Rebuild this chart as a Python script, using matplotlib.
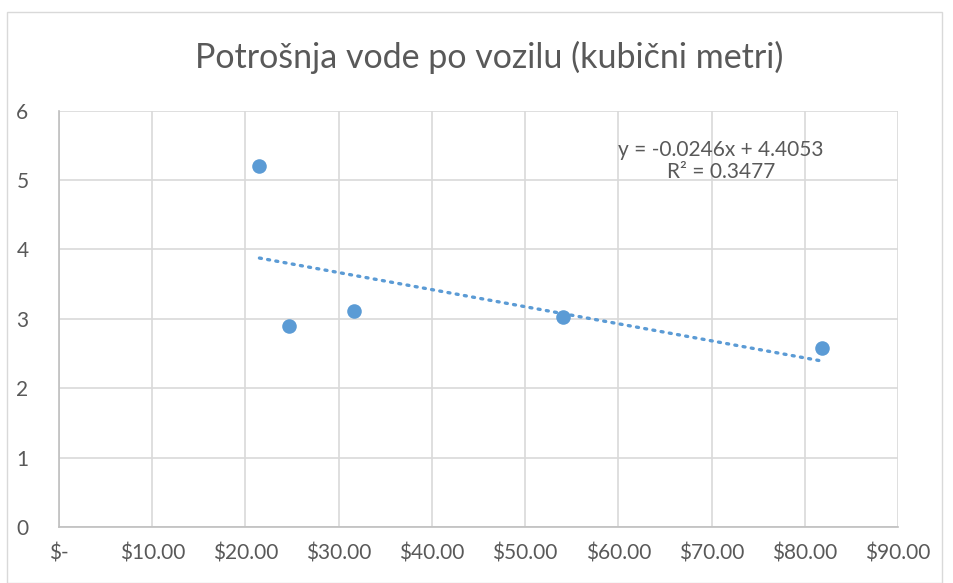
import matplotlib
matplotlib.use("Agg")
import matplotlib.pyplot as plt
import numpy as np
from matplotlib.patches import Rectangle

title = "Potrošnja vode po vozilu (kubični metri)"
price = [21.5, 24.7, 31.6, 54.1, 81.8]
water = [5.20, 2.90, 3.11, 3.02, 2.58]
xticks = [0, 10, 20, 30, 40, 50, 60, 70, 80, 90]
xticklabels = ["$-", "$10.00", "$20.00", "$30.00", "$40.00", "$50.00",
               "$60.00", "$70.00", "$80.00", "$90.00"]
yticks = [0, 1, 2, 3, 4, 5, 6]
slope, intercept = -0.0246, 4.4053
eq_text = "y = -0.0246x + 4.4053\nR² = 0.3477"

plt.rcParams['font.family'] = ['Lato', 'DejaVu Sans']
fig = plt.figure(figsize=(9.54, 5.83), dpi=100)
W, H = 954, 583
fig.patches.append(Rectangle((7 / W, 0), (942 - 7) / W, (583 - 12) / H,
                             transform=fig.transFigure, fill=False,
                             edgecolor="#D9D9D9", lw=1))
ax = fig.add_axes([59 / W, 1 - 527 / H, (898 - 59) / W, (527 - 110.7) / H])
ax.set_xlim(0, 90)
ax.set_ylim(0, 6)
ax.set_xticks(xticks)
ax.set_xticklabels(xticklabels)
ax.set_yticks(yticks)
ax.grid(True, color="#D9D9D9", lw=1.2)
ax.set_axisbelow(True)
for s in ["top", "right"]:
    ax.spines[s].set_visible(False)
for s in ["left", "bottom"]:
    ax.spines[s].set_color("#BFBFBF")
    ax.spines[s].set_linewidth(1.2)
ax.tick_params(length=0, labelsize=15, colors="#595959")
ax.tick_params(axis="x", pad=12)
ax.tick_params(axis="y", pad=22)

xs = np.array([min(price), max(price)])
ax.plot(xs, slope * xs + intercept, color="#5B9BD5", lw=2.4,
        linestyle=(0, (0.6, 1.9)), dash_capstyle="round", zorder=2)
ax.scatter(price, water, s=110, color="#5B9BD5", zorder=3, linewidths=0)

ax.text(721 / W, 1 - 161 / H, eq_text, transform=fig.transFigure,
        ha="center", va="center", fontsize=15, color="#595959",
        linespacing=1.1)
fig.text(489 / W, 1 - 57 / H, title, ha="center", va="center",
         fontsize=24.5, color="#595959")
fig.savefig("out.png", dpi=100)
